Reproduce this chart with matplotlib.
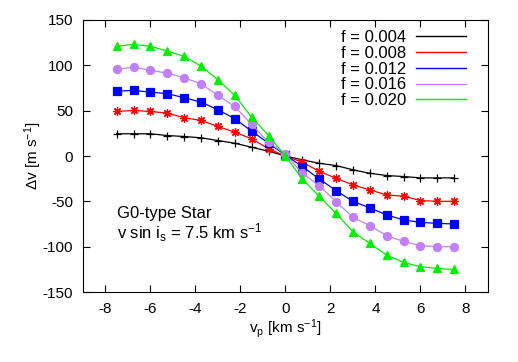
import matplotlib
matplotlib.use('Agg')
import matplotlib.pyplot as plt
from matplotlib.lines import Line2D

plt.rcParams['font.family'] = ['Liberation Sans', 'DejaVu Sans']
plt.rcParams['mathtext.default'] = 'regular'
plt.rcParams['axes.unicode_minus'] = False

# планетарная скорость, km/s
vp = [-7.5, -6.75, -6.0, -5.25, -4.5, -3.75, -3.0, -2.25, -1.5, -0.75, 0.0,
      0.75, 1.5, 2.25, 3.0, 3.75, 4.5, 5.25, 6.0, 6.75, 7.5]

# аномалия лучевой скорости для разных f
dv_004 = [24.5, 24.5, 24.5, 22.6, 21.5, 20.1, 17.1, 14.1, 9.7, 5.3, 0.0,
          -4.2, -8.0, -10.5, -15.2, -19.0, -21.5, -22.6, -24.1, -24.1, -24.1]
dv_008 = [49.1, 50.2, 49.1, 47.3, 42.2, 39.2, 32.6, 26.3, 19.0, 8.0, 0.0,
          -6.8, -16.8, -24.5, -31.8, -37.3, -42.9, -44.2, -49.1, -49.9, -49.9]
dv_012 = [71.5, 72.3, 70.4, 68.7, 64.3, 59.4, 51.0, 41.1, 27.4, 14.1, 1.0,
          -11.6, -25.2, -38.1, -49.9, -57.2, -64.9, -70.4, -73.1, -74.2, -74.9]
dv_016 = [95.5, 98.0, 94.4, 91.4, 86.1, 79.7, 66.8, 54.6, 34.8, 15.2, 2.0,
          -19.0, -32.6, -50.2, -67.6, -76.7, -87.8, -94.1, -98.8, -99.9, -99.9]
dv_020 = [120.9, 123.1, 120.9, 115.7, 109.9, 99.1, 84.1, 66.8, 42.8, 22.6, 0.0,
          -25.2, -44.4, -63.2, -83.4, -96.3, -109.1, -117.3, -122.0, -123.9, -125.0]

labels = ['f = 0.004', 'f = 0.008', 'f = 0.012', 'f = 0.016', 'f = 0.020']
series = [dv_004, dv_008, dv_012, dv_016, dv_020]
colors = ['#000000', '#ff0000', '#0000ff', '#c080ff', '#00ee00']
markers = ['+', (8, 2, 0), 's', 'o', '^']
msizes = [6, 6, 5.2, 5.8, 5.8]

fig = plt.figure(figsize=(5.18, 3.62), dpi=100)
ax = fig.add_axes([0.160, 0.193, 0.782, 0.752])

handles = []
for y, c, m, ms, lab in zip(series, colors, markers, msizes, labels):
    ax.plot(vp, y, color=c, linewidth=0.9)
    ax.plot(vp, y, linestyle='none', marker=m, markersize=ms, color=c,
            markeredgewidth=0.9)
    handles.append(Line2D([], [], color=c, linewidth=1.0, label=lab))

ax.set_xlim(-9, 9)
ax.set_ylim(-150, 150)
ax.set_xticks(range(-8, 9, 2))
ax.set_yticks(range(-150, 151, 50))
ax.tick_params(direction='in', top=True, right=True, length=5, labelsize=11, pad=7)

ax.set_xlabel('v$_p$ [km s$^{-1}$]', fontsize=11, labelpad=1)
ax.set_ylabel('$\\Delta$v [m s$^{-1}$]', fontsize=11, labelpad=-1)

ax.text(-7.5, -76, 'G0-type Star\nv sin i$_s$ = 7.5 km s$^{-1}$', fontsize=12,
        va='center', ha='left', linespacing=1.05)

ax.legend(handles=handles, loc='upper right', frameon=False, markerfirst=False,
          fontsize=12, handlelength=3.0, handletextpad=0.6, labelspacing=0.05,
          borderaxespad=0.2, bbox_to_anchor=(0.97, 1.0))

fig.savefig('out.png', dpi=100)
